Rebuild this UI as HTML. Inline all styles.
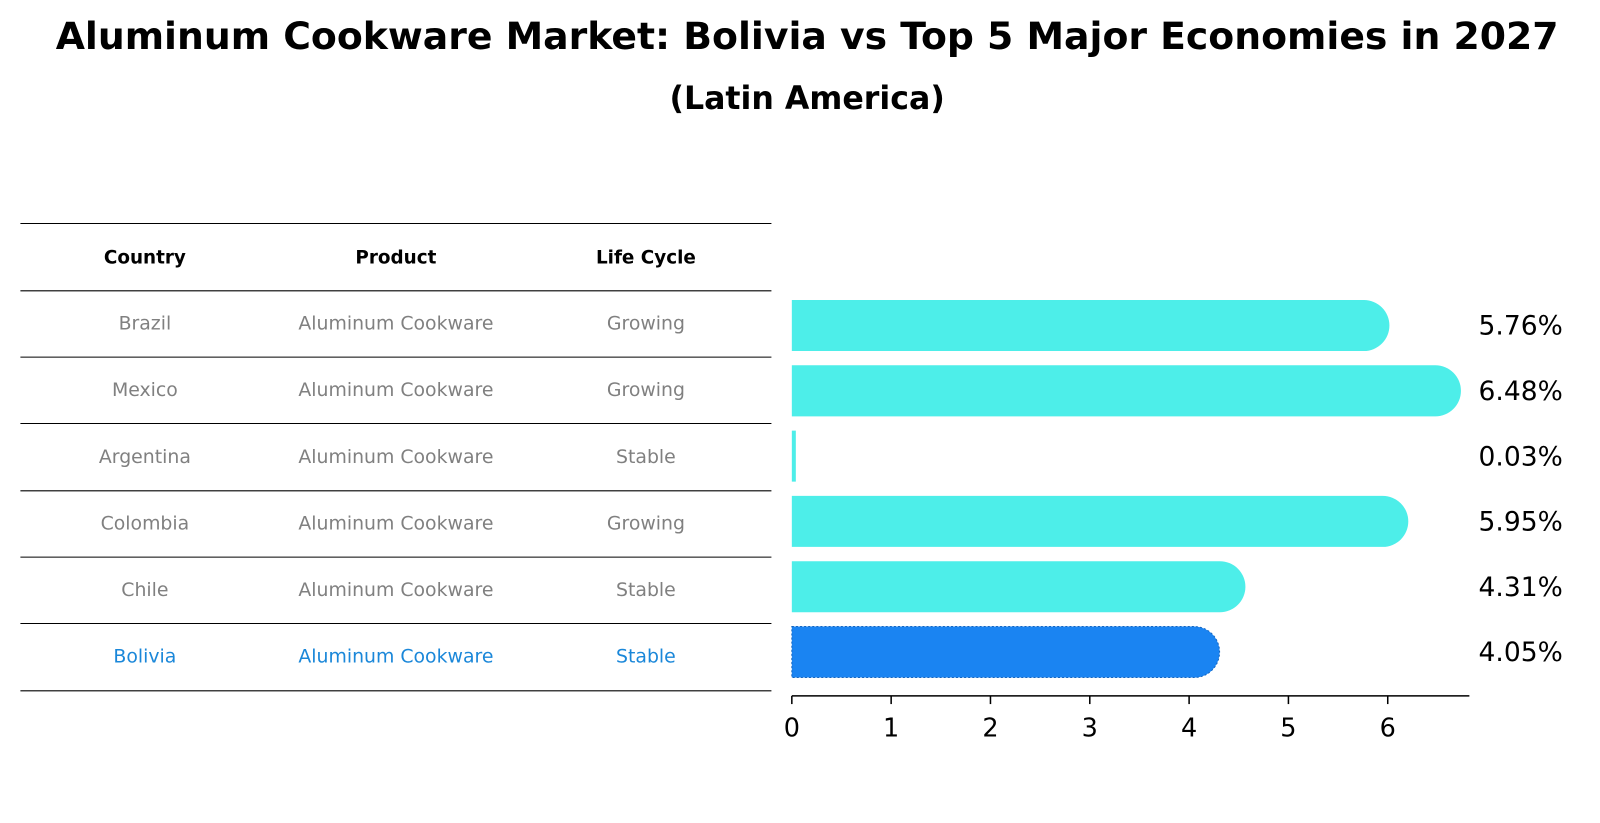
<!DOCTYPE html>
<html><head><meta charset="utf-8"><style>
body{margin:0;background:#fff;font-family:"DejaVu Sans","Liberation Sans",sans-serif;}
#wrap{position:relative;width:1600px;height:823px;overflow:hidden;}
</style></head><body>
<div id="wrap">
<svg id="svg" width="1600" height="823">
<g transform="scale(1.0204)">
<text x="791" y="48" text-anchor="middle" font-size="37" font-weight="bold">Aluminum Cookware Market: Bolivia vs Top 5 Major Economies in 2027</text>
<text x="791" y="107" text-anchor="middle" font-size="31" font-weight="bold">(Latin America)</text>
<g id="table"></g>
<g id="bars"></g>
</g>
</svg>
</div>
<script>
const countries=["Brazil","Mexico","Argentina","Colombia","Chile","Bolivia"];
const products=["Aluminum Cookware","Aluminum Cookware","Aluminum Cookware","Aluminum Cookware","Aluminum Cookware","Aluminum Cookware"];
const lifecycles=["Growing","Growing","Stable","Growing","Stable","Stable"];
const values=[5.76,6.48,0.03,5.95,4.31,4.05];
const ticks=[0,1,2,3,4,5,6];
const NS="http://www.w3.org/2000/svg";
function mk(tag,attrs,parent,text){const e=document.createElementNS(NS,tag);for(const k in attrs)e.setAttribute(k,attrs[k]);if(text!==undefined)e.textContent=text;parent.appendChild(e);return e;}
const tbl=document.getElementById('table');
const lineYs=[219,285,350,415,481,546,611,677];
lineYs.forEach(y=>{const l=mk('line',{x1:20,x2:756,y1:y,y2:y,stroke:'#000','stroke-width':1},tbl);

});
const colX=[142,388,633];
["Country","Product","Life Cycle"].forEach((h,i)=>{const t=mk('text',{x:colX[i],y:258,'text-anchor':'middle','font-size':18,'font-weight':'bold'},tbl,h);

});
countries.forEach((c,r)=>{const y=323+r*65.3;const col=c==="Bolivia"?"#1a87d9":"#808080";
[c,products[r],lifecycles[r]].forEach((v,i)=>{const t=mk('text',{x:colX[i],y:y,'text-anchor':'middle','font-size':18.5,fill:col},tbl,v);

});});
const g=document.getElementById('bars');
const x0=776,unit=(1360-776)/6;
const xs=v=>x0+v*unit;
const yc=i=>319+i*64;
const bh=50,r=25;
values.forEach((v,i)=>{const x1=xs(v);const top=yc(i)-bh/2;const col=countries[i]==="Bolivia"?"#1a84f2":"#4deee9";
let d;
if(x1-x0>6){d=`M${x0},${top} H${x1} A${r},${r} 0 0 1 ${x1},${top+bh} H${x0} Z`;}
else{d=`M${x0},${top} H${x1+1} V${top+bh} H${x0} Z`;}
const p=mk('path',{d:d,fill:col},g);
if(countries[i]==="Bolivia"){p.setAttribute('stroke','#1565c0');p.setAttribute('stroke-dasharray','2,2');p.setAttribute('stroke-width','1');}


const t=mk('text',{x:1449,y:yc(i)+9,'font-size':26},g,v.toFixed(2)+'%');

});
const ax=mk('line',{x1:776,x2:1440,y1:682,y2:682,stroke:'#000','stroke-width':1.5},g);


ticks.forEach(tv=>{const x=xs(tv);const l=mk('line',{x1:x,x2:x,y1:682,y2:690,stroke:'#000','stroke-width':1.5},g);


const t=mk('text',{x:x,y:722,'text-anchor':'middle','font-size':25},g,String(tv));

});
</script>
</body></html>
